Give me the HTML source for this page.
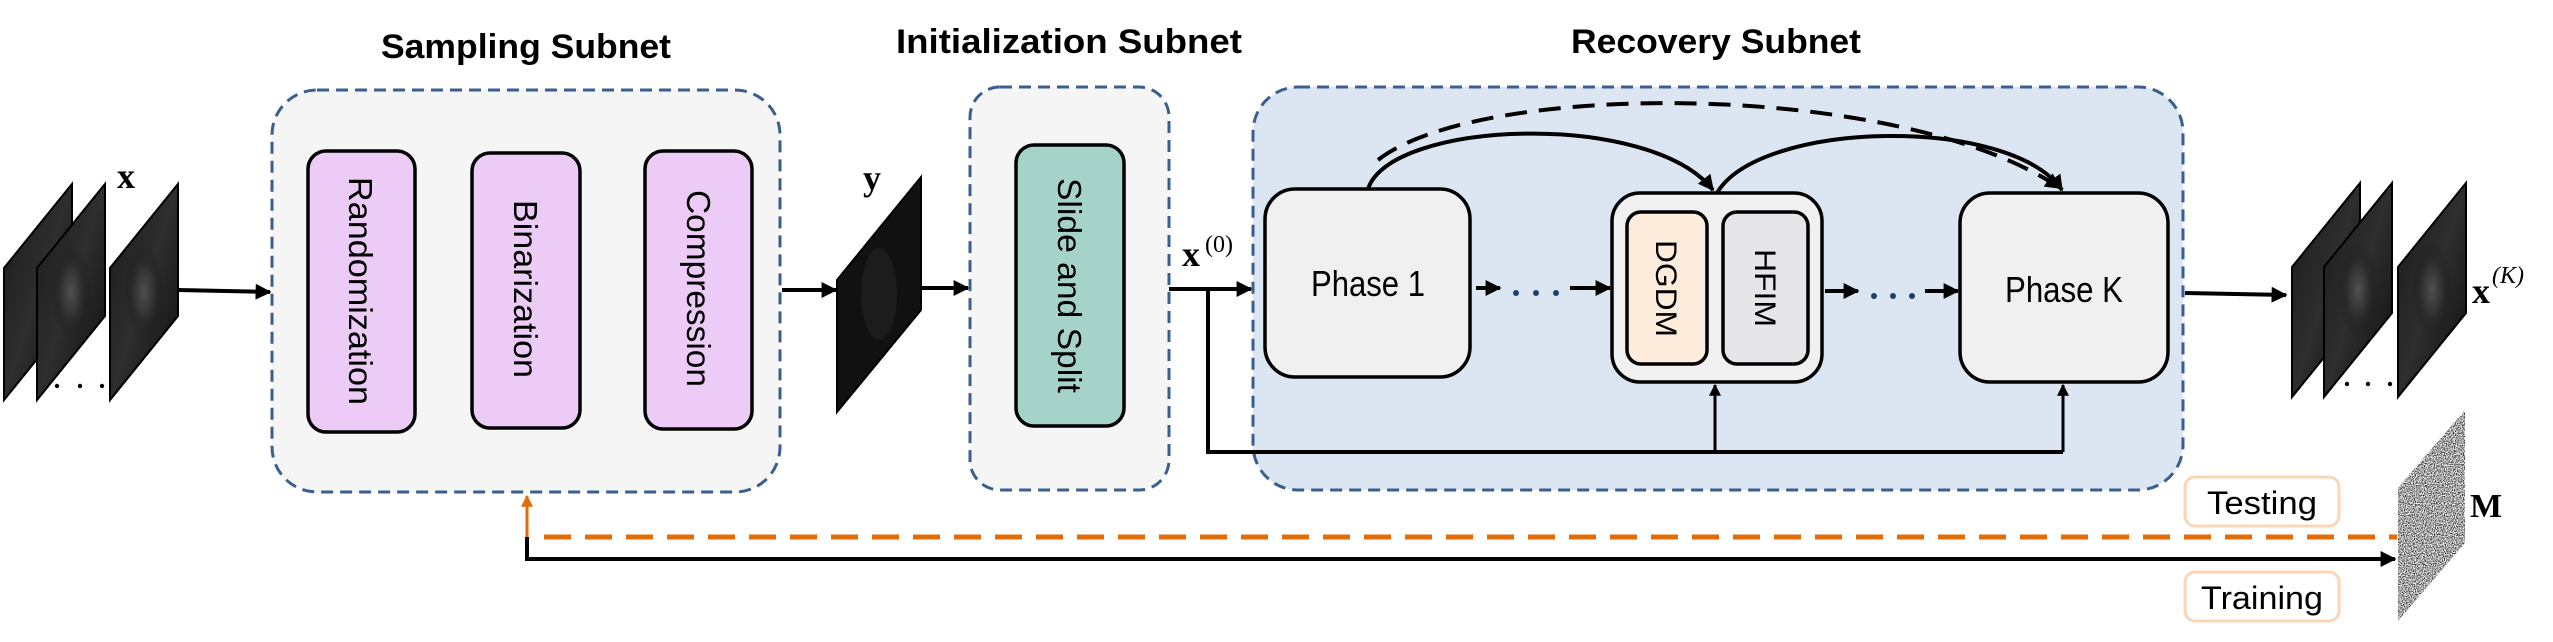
<!DOCTYPE html>
<html><head><style>body{margin:0;background:#fff}svg{display:block}</style></head><body>
<svg width="2553" height="642" viewBox="0 0 2553 642" xmlns="http://www.w3.org/2000/svg" font-family="Liberation Sans, sans-serif">
<defs>
<marker id="ah" viewBox="0 0 10 10" refX="9" refY="5" markerWidth="4" markerHeight="4" orient="auto-start-reverse" markerUnits="strokeWidth"><path d="M0,0 L10,5 L0,10 z" fill="#000"/></marker>
<marker id="aho" viewBox="0 0 10 10" refX="9" refY="5" markerWidth="4" markerHeight="4" orient="auto" markerUnits="strokeWidth"><path d="M0,0 L10,5 L0,10 z" fill="#e36c0a"/></marker>
<linearGradient id="img" x1="0" y1="0" x2="1" y2="1"><stop offset="0" stop-color="#1a1a1a"/><stop offset=".5" stop-color="#2e2e2e"/><stop offset="1" stop-color="#0e0e0e"/></linearGradient>
<radialGradient id="brain" cx=".5" cy=".5" r=".5"><stop offset="0" stop-color="#666"/><stop offset=".6" stop-color="#2c2c2c"/><stop offset="1" stop-color="#151515" stop-opacity="0"/></radialGradient>
<filter id="noise"><feTurbulence type="fractalNoise" baseFrequency="0.9" numOctaves="2" seed="3"/><feColorMatrix type="matrix" values="0 0 0 0 0  0 0 0 0 0  0 0 0 0 0  0 0 0 -2.5 1.6"/></filter>
<clipPath id="mclip"><path d="M2398,488 L2465,410 L2465,543 L2398,621 z"/></clipPath>
</defs>

<!-- titles -->
<g font-weight="bold" font-size="34" fill="#000" lengthAdjust="spacingAndGlyphs">
<text x="381" y="58" textLength="290" lengthAdjust="spacingAndGlyphs">Sampling Subnet</text>
<text x="896" y="53" textLength="346" lengthAdjust="spacingAndGlyphs">Initialization Subnet</text>
<text x="1571" y="53" textLength="290" lengthAdjust="spacingAndGlyphs">Recovery Subnet</text>
</g>

<!-- subnet containers -->
<rect x="272" y="90" width="508" height="402" rx="45" fill="#f5f5f5" stroke="#3a5f8f" stroke-width="3" stroke-dasharray="12,7"/>
<rect x="970" y="87" width="199" height="403" rx="30" fill="#f5f5f5" stroke="#3a5f8f" stroke-width="3" stroke-dasharray="12,7"/>
<rect x="1253" y="87" width="930" height="403" rx="45" fill="#dce6f2" stroke="#3a5f8f" stroke-width="3" stroke-dasharray="12,7"/>

<!-- sampling boxes -->
<g stroke="#000" stroke-width="3.5" fill="#ecccf6">
<rect x="308" y="151" width="107" height="281" rx="18"/>
<rect x="472" y="153" width="108" height="275" rx="18"/>
<rect x="645" y="151" width="107" height="278" rx="18"/>
</g>
<rect x="1016" y="145" width="108" height="281" rx="18" fill="#a5d3c9" stroke="#000" stroke-width="3.5"/>
<g font-size="33" fill="#000">
<text transform="translate(349,177) rotate(90)" textLength="228" lengthAdjust="spacingAndGlyphs">Randomization</text>
<text transform="translate(514,200) rotate(90)" textLength="178" lengthAdjust="spacingAndGlyphs">Binarization</text>
<text transform="translate(687,190) rotate(90)" textLength="197" lengthAdjust="spacingAndGlyphs">Compression</text>
<text transform="translate(1058,178) rotate(90)" textLength="215" lengthAdjust="spacingAndGlyphs">Slide and Split</text>
</g>

<!-- recovery phases -->
<g stroke="#000" stroke-width="3.5">
<rect x="1265" y="189" width="205" height="188" rx="30" fill="#f0f0f0"/>
<rect x="1612" y="193" width="210" height="189" rx="28" fill="#f0f0f0"/>
<rect x="1627" y="212" width="80" height="152" rx="14" fill="#fdebdc"/>
<rect x="1723" y="212" width="85" height="152" rx="14" fill="#e6e5e8"/>
<rect x="1960" y="193" width="208" height="189" rx="30" fill="#f0f0f0"/>
</g>
<g font-size="36" fill="#000">
<text x="1311" y="296" textLength="114" lengthAdjust="spacingAndGlyphs">Phase 1</text>
<text x="2005" y="302" textLength="118" lengthAdjust="spacingAndGlyphs">Phase K</text>
<text transform="translate(1656,240) rotate(90)" font-size="30" textLength="97" lengthAdjust="spacingAndGlyphs">DGDM</text>
<text transform="translate(1755,249) rotate(90)" font-size="30" textLength="78" lengthAdjust="spacingAndGlyphs">HFIM</text>
</g>

<!-- arcs -->
<g fill="none" stroke="#000" stroke-width="4">
<path d="M1368,189 C1390,120 1650,110 1713,190" marker-end="url(#ah)"/>
<path d="M1717,193 C1760,120 2010,115 2062,190" marker-end="url(#ah)"/>
<path d="M1378,160 C1480,80 1900,80 2060,188" stroke-dasharray="22,12" marker-end="url(#ah)"/>
</g>

<!-- phase arrows -->
<g stroke="#000" stroke-width="4" fill="none">
<line x1="1476" y1="288" x2="1500" y2="288" marker-end="url(#ah)"/>
<line x1="1570" y1="288" x2="1610" y2="288" marker-end="url(#ah)"/>
<line x1="1825" y1="291" x2="1858" y2="291" marker-end="url(#ah)"/>
<line x1="1925" y1="291" x2="1958" y2="291" marker-end="url(#ah)"/>
</g>
<g fill="#1f3f6f">
<circle cx="1516" cy="293" r="3"/><circle cx="1536" cy="293" r="3"/><circle cx="1556" cy="293" r="3"/>
<circle cx="1874" cy="296" r="3"/><circle cx="1893" cy="296" r="3"/><circle cx="1912" cy="296" r="3"/>
</g>

<!-- bottom feed -->
<g stroke="#000" stroke-width="4" fill="none">
<polyline points="1208,289 1208,452 2063,452"/>
<line x1="1715" y1="452" x2="1715" y2="385" marker-end="url(#ah)" stroke-width="3"/>
<line x1="2063" y1="452" x2="2063" y2="385" marker-end="url(#ah)" stroke-width="3"/>
<line x1="1169" y1="289" x2="1251" y2="289" marker-end="url(#ah)"/>
<line x1="178" y1="290" x2="270" y2="292" marker-end="url(#ah)"/>
<line x1="782" y1="290" x2="836" y2="290" marker-end="url(#ah)"/>
<line x1="921" y1="288" x2="968" y2="288" marker-end="url(#ah)"/>
<line x1="2185" y1="293" x2="2286" y2="295" marker-end="url(#ah)"/>
</g>

<!-- images -->
<g>
<path d="M4,268 L72,184 L72,316 L4,400 z" fill="url(#img)" stroke="#000" stroke-width="2"/>
<path d="M37,268 L105,184 L105,316 L37,400 z" fill="url(#img)" stroke="#000" stroke-width="2"/>
<ellipse cx="71" cy="292" rx="20" ry="48" fill="url(#brain)" opacity=".6"/>
<path d="M110,268 L178,184 L178,316 L110,400 z" fill="url(#img)" stroke="#000" stroke-width="2"/>
<ellipse cx="144" cy="292" rx="20" ry="48" fill="url(#brain)" opacity=".6"/>
<circle cx="57" cy="386" r="2.2" fill="#000"/><circle cx="80" cy="386" r="2.2" fill="#000"/><circle cx="102" cy="386" r="2.2" fill="#000"/>

<path d="M837,280 L921,177 L921,310 L837,412 z" fill="#111" stroke="#000" stroke-width="2"/>
<ellipse cx="879" cy="294" rx="18" ry="46" fill="#1c1c1c"/>

<path d="M2292,267 L2360,183 L2360,313 L2292,397 z" fill="url(#img)" stroke="#000" stroke-width="2"/>
<path d="M2324,267 L2392,183 L2392,313 L2324,397 z" fill="url(#img)" stroke="#000" stroke-width="2"/>
<ellipse cx="2358" cy="290" rx="20" ry="48" fill="url(#brain)" opacity=".6"/>
<path d="M2398,267 L2466,183 L2466,313 L2398,397 z" fill="url(#img)" stroke="#000" stroke-width="2"/>
<ellipse cx="2432" cy="290" rx="20" ry="48" fill="url(#brain)" opacity=".6"/>
<circle cx="2347" cy="384" r="2.2" fill="#000"/><circle cx="2368" cy="384" r="2.2" fill="#000"/><circle cx="2390" cy="384" r="2.2" fill="#000"/>

<g clip-path="url(#mclip)"><rect x="2398" y="410" width="67" height="211" fill="#fff"/><rect x="2398" y="410" width="67" height="211" filter="url(#noise)"/></g>
</g>

<!-- math labels -->
<g font-family="Liberation Serif, serif" font-weight="bold" fill="#000">
<text x="117" y="188" font-size="36">x</text>
<text x="863" y="190" font-size="36">y</text>
<text x="1182" y="266" font-size="36">x</text>
<text x="1205" y="252" font-size="24" font-weight="normal">(0)</text>
<text x="2472" y="303" font-size="36">x</text>
<text x="2492" y="283" font-size="24" font-weight="normal" font-style="italic">(K)</text>
<text x="2470" y="517" font-size="34">M</text>
</g>

<!-- testing / training -->
<rect x="2185" y="477" width="154" height="49" rx="10" fill="#fff" stroke="#fcd5b5" stroke-width="3"/>
<rect x="2185" y="572" width="154" height="49" rx="10" fill="#fff" stroke="#fcd5b5" stroke-width="3"/>
<text x="2207" y="514" font-size="32" textLength="110" lengthAdjust="spacingAndGlyphs">Testing</text>
<text x="2201" y="609" font-size="32" textLength="122" lengthAdjust="spacingAndGlyphs">Training</text>

<line x1="544" y1="537" x2="2397" y2="537" stroke="#e36c0a" stroke-width="5" stroke-dasharray="27,14"/>
<line x1="527" y1="537" x2="527" y2="496" stroke="#e36c0a" stroke-width="3" marker-end="url(#aho)"/>
<polyline points="527,537 527,559 2395,559" fill="none" stroke="#000" stroke-width="4" marker-end="url(#ah)"/>
</svg>
</body></html>
